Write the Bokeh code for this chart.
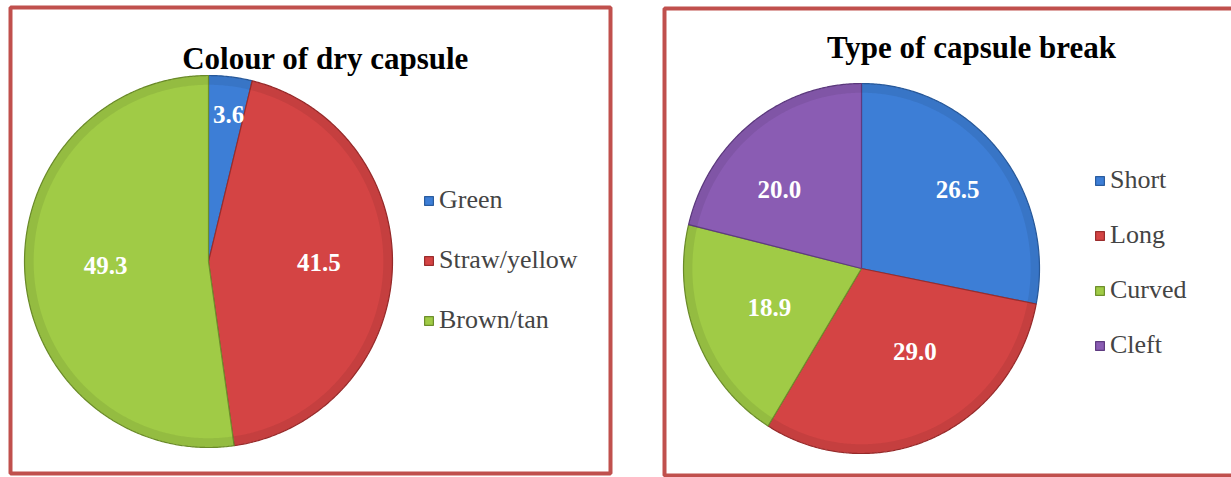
import numpy as np
from bokeh.plotting import figure
from bokeh.models import Range1d, Legend, LegendItem, ColumnDataSource
from bokeh.core.properties import value
from bokeh.embed import file_html
from bokeh.resources import INLINE

# ---- data ----
title_left = "Colour of dry capsule"
cats_left = ["Green", "Straw/yellow", "Brown/tan"]
vals_left = [3.6, 41.5, 49.3]

title_right = "Type of capsule break"
cats_right = ["Short", "Long", "Curved", "Cleft"]
vals_right = [26.5, 29.0, 18.9, 20.0]

# ---- styles / label placement ----
colors_left = ["#3D7ED6", "#D44444", "#A0CB46"]
colors_right = ["#3D7ED6", "#D44444", "#A0CB46", "#8A5CB3"]
edge_left = ["#2A5C9E", "#9A2C2C", "#6E8F2C"]
edge_right = ["#2A5C9E", "#9A2C2C", "#6E8F2C", "#5E3B80"]
label_frac_left = [0.8, 0.6, 0.56]
label_shift_left = [1.0, -2.4, 2.0]          # degrees
label_frac_right = [0.69, 0.54, 0.56, 0.63]
label_shift_right = [1.0, -10.0, 0.0, -9.0]  # degrees
SERIF = "Liberation Serif"
BORDER = "#C0504D"

W, H = 1231, 477
p = figure(width=W, height=H, x_range=Range1d(0, W), y_range=Range1d(H, 0),
           x_axis_type=None, y_axis_type=None, output_backend="svg",
           toolbar_location=None, min_border=0)
p.grid.visible = False
p.outline_line_color = None
p.background_fill_color = "white"
p.border_fill_color = "white"

# panel borders
p.quad(left=[10, 664], right=[610, 1234], top=[7, 8], bottom=[473, 475],
       fill_color=None, line_color=BORDER, line_width=4)


def draw_pie(cx, cy, rx, ry, vals, colors, edges, label_frac, label_shift):
    total = float(sum(vals))
    cum = np.concatenate([[0.0], np.cumsum(vals)]) / total * 2 * np.pi
    rends = []
    lx, ly, lt = [], [], []
    for i in range(len(vals)):
        n = max(8, int(120 * (cum[i + 1] - cum[i])))
        t = np.linspace(cum[i], cum[i + 1], n)
        xs = [cx] + list(cx + rx * np.sin(t)) + [cx]
        ys = [cy] + list(cy - ry * np.cos(t)) + [cy]
        r = p.patch(xs, ys, fill_color=colors[i], line_color=edges[i], line_width=1.2)
        rends.append(r)
        # subtle bevel along the rim
        xo = list(cx + rx * np.sin(t)) + list(cx + 0.95 * rx * np.sin(t[::-1]))
        yo = list(cy - ry * np.cos(t)) + list(cy - 0.95 * ry * np.cos(t[::-1]))
        p.patch(xo, yo, fill_color="black", fill_alpha=0.07, line_color=None)
        m = 0.5 * (cum[i] + cum[i + 1]) + np.radians(label_shift[i])
        lx.append(cx + label_frac[i] * rx * np.sin(m))
        ly.append(cy - label_frac[i] * ry * np.cos(m))
        lt.append(f"{vals[i]:.1f}")
    src = ColumnDataSource(dict(x=lx, y=ly, text=lt))
    p.text(x="x", y="y", text="text", source=src, text_color="white",
           text_font=value(SERIF), text_font_style="bold", text_font_size="25px",
           text_align="center", text_baseline="middle")
    return rends


rl = draw_pie(208, 261, 184, 186, vals_left, colors_left, edge_left,
              label_frac_left, label_shift_left)
rr = draw_pie(861, 268, 178, 185, vals_right, colors_right, edge_right,
              label_frac_right, label_shift_right)

# titles
tsrc = ColumnDataSource(dict(x=[325, 971], y=[58, 47], text=[title_left, title_right]))
p.text(x="x", y="y", text="text", source=tsrc, text_color="black",
       text_font=value(SERIF), text_font_style="bold", text_font_size="31px",
       text_align="center", text_baseline="alphabetic")


def make_legend(rends, cats, loc, spacing):
    items = [LegendItem(label=c, renderers=[r]) for c, r in zip(cats, rends)]
    leg = Legend(items=items, location=loc, orientation="vertical",
                 glyph_width=11, glyph_height=11, label_height=32,
                 label_text_font=SERIF, label_text_font_size="26px",
                 label_standoff=5, spacing=spacing, padding=0, margin=0,
                 border_line_color=None, background_fill_alpha=0)
    p.add_layout(leg)


make_legend(rl, cats_left, (423, 141), 28)
make_legend(rr, cats_right, (1094, 116), 23)

open("out.html", "w").write(file_html(p, INLINE))
